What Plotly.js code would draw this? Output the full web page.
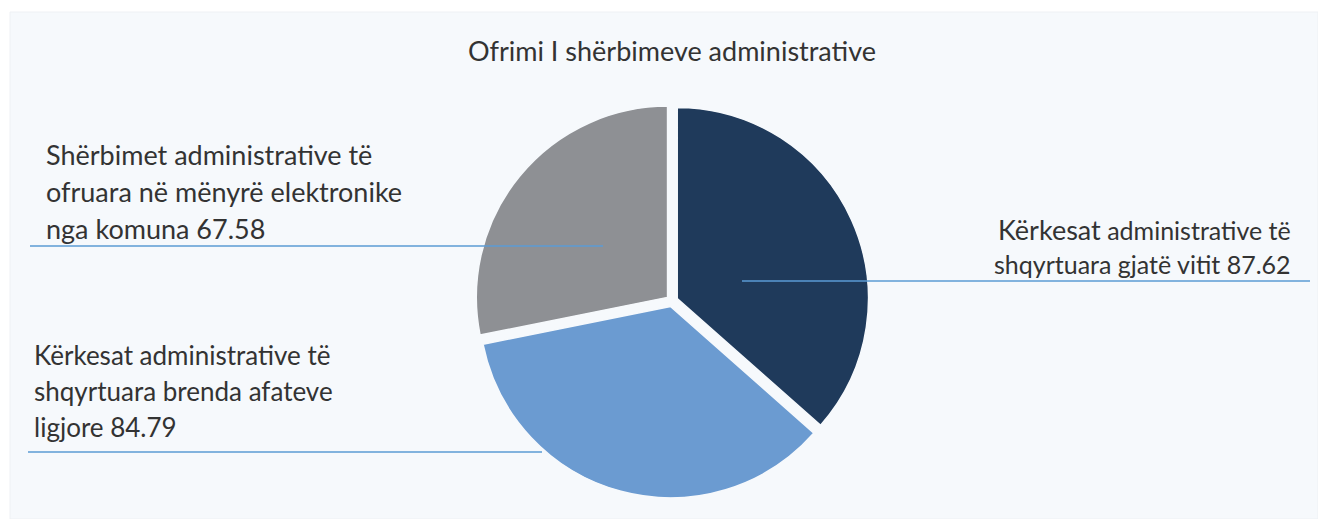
<!DOCTYPE html>
<html>
<head>
<meta charset="utf-8">
<script src="https://cdn.plot.ly/plotly-3.0.1.min.js"></script>
<style>
  html, body { margin: 0; padding: 0; background: #ffffff; }
  #chart { width: 1318px; height: 519px; }
</style>
</head>
<body>
<div id="chart"></div>
<script>
// slice data, clockwise from 12 o'clock
const sliceNames = [
  "Kërkesat administrative të shqyrtuara gjatë vitit",
  "Kërkesat administrative të shqyrtuara brenda afateve ligjore",
  "Shërbimet administrative të ofruara në mënyrë elektronike nga komuna"
];
const sliceValues = [87.62, 84.79, 67.58];
const sliceColors = ["#1f3a5b", "#6b9bd1", "#8e9094"];

// how each label is broken into lines (value goes on the last line)
const labelLines = [
  ["Kërkesat administrative të", "shqyrtuara gjatë vitit"],
  ["Kërkesat administrative të", "shqyrtuara brenda afateve", "ligjore"],
  ["Shërbimet administrative të", "ofruara në mënyrë elektronike", "nga komuna"]
];

const W = 1318, H = 519;
const px = x => x / W;
const py = y => 1 - y / H;

// label placement in pixels: anchor x, first line centre y, line step, align, size
const labelPos = [
  { x: 1293, y: 229, step: 35, anchor: "right", size: 25 },
  { x: 32, y: 355, step: 36, anchor: "left", size: 26 },
  { x: 44, y: 154, step: 37, anchor: "left", size: 27 }
];
// leader lines under each label (pixels)
const leaders = [
  { x0: 742, x1: 1310, y: 281 },
  { x0: 28, x1: 542, y: 452 },
  { x0: 30, x1: 603, y: 246 }
];

const textColor = "#333333";
const fontFam = "Lato, 'Open Sans', sans-serif";

const annotations = [];
labelLines.forEach((lines, i) => {
  const p = labelPos[i];
  lines.forEach((ln, j) => {
    let t = ln;
    if (j === lines.length - 1) t += " " + sliceValues[i].toFixed(2);
    if (i === 0 && j === 0) {
      t = t.replace("Kërkesat", "<span style='font-size:27px'>Kërkesat</span>");
    }
    annotations.push({
      xref: "paper", yref: "paper",
      x: px(p.x), y: py(p.y + j * p.step),
      xanchor: p.anchor, yanchor: "middle",
      text: t, showarrow: false,
      font: { family: fontFam, size: p.size, color: textColor }
    });
  });
});

const shapes = [
  {
    type: "rect", xref: "paper", yref: "paper", layer: "below",
    x0: px(10), x1: 1, y0: 0, y1: py(12),
    fillcolor: "#f6f9fc", line: { color: "#eef1f4", width: 1 }
  }
];
leaders.forEach(l => {
  shapes.push({
    type: "line", xref: "paper", yref: "paper",
    x0: px(l.x0), x1: px(l.x1), y0: py(l.y), y1: py(l.y),
    line: { color: "#5b9bd5", width: 1.4 }
  });
});

const data = [{
  type: "pie",
  labels: sliceNames,
  values: sliceValues,
  sort: false,
  direction: "clockwise",
  rotation: 0,
  pull: [0.03, 0.03, 0.03],
  textinfo: "none",
  hoverinfo: "label+value",
  marker: { colors: sliceColors, line: { color: "#f6f9fc", width: 1.5 } },
  domain: { x: [px(672 - 197), px(672 + 197)], y: [py(498), py(104)] }
}];

const layout = {
  width: W, height: H,
  margin: { l: 0, r: 0, t: 0, b: 0 },
  paper_bgcolor: "#ffffff",
  showlegend: false,
  title: {
    text: "Ofrimi I shërbimeve administrative",
    x: px(672), xanchor: "center",
    y: py(52), yanchor: "middle",
    font: { family: fontFam, size: 27, color: textColor }
  },
  annotations: annotations,
  shapes: shapes
};

Plotly.newPlot("chart", data, layout, { displayModeBar: false, staticPlot: true });
</script>
</body>
</html>
